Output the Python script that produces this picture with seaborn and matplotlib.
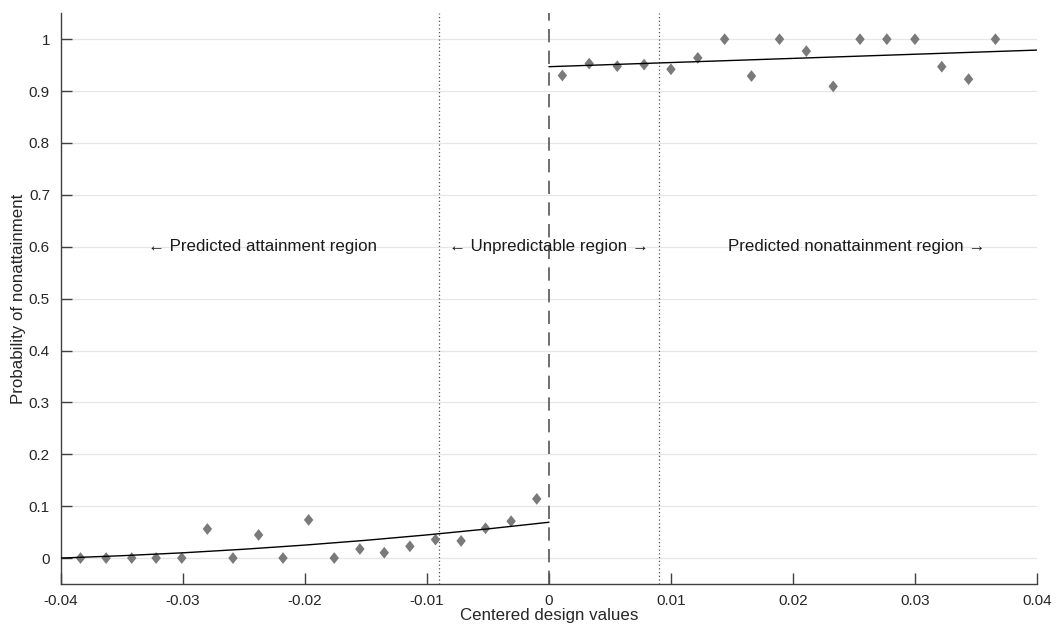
import numpy as np
import pandas as pd
import matplotlib
matplotlib.use("Agg")
import matplotlib.pyplot as plt
import seaborn as sns

# ---- data ----
left_x = [-0.0384, -0.0363, -0.0342, -0.0322, -0.0301, -0.0280, -0.0259, -0.0238,
          -0.0218, -0.0197, -0.0176, -0.0155, -0.0135, -0.0114, -0.0093, -0.0072,
          -0.0052, -0.0031, -0.0010]
left_y = [0.0, 0.0, 0.0, 0.0, 0.0, 0.056, 0.0, 0.0445, 0.0, 0.0735, 0.0, 0.0174,
          0.0103, 0.0226, 0.0355, 0.033, 0.0574, 0.071, 0.114]
right_x = [0.0011, 0.0033, 0.0056, 0.0078, 0.0100, 0.0122, 0.0144, 0.0166, 0.0189,
           0.0211, 0.0233, 0.0255, 0.0277, 0.0300, 0.0322, 0.0344, 0.0366]
right_y = [0.930, 0.953, 0.948, 0.951, 0.942, 0.964, 1.0, 0.929, 1.0, 0.977, 0.909,
           1.0, 1.0, 1.0, 0.947, 0.923, 1.0]

left_fit_x = [-0.04, -0.035, -0.03, -0.025, -0.02, -0.015, -0.01, -0.005, 0.0]
left_fit_y = [0.0, 0.0045, 0.0101, 0.0170, 0.025, 0.0342, 0.0446, 0.0562, 0.069]
right_fit_x = [0.0, 0.01, 0.02, 0.03, 0.04]
right_fit_y = [0.947, 0.955, 0.963, 0.971, 0.979]

x_ticks = [-0.04, -0.03, -0.02, -0.01, 0.0, 0.01, 0.02, 0.03, 0.04]
x_tick_labels = ["-0.04", "-0.03", "-0.02", "-0.01", "0", "0.01", "0.02", "0.03", "0.04"]
y_ticks = [0.0, 0.1, 0.2, 0.3, 0.4, 0.5, 0.6, 0.7, 0.8, 0.9, 1.0]
y_tick_labels = ["0", "0.1", "0.2", "0.3", "0.4", "0.5", "0.6", "0.7", "0.8", "0.9", "1"]
region_labels = ["\u2190 Predicted attainment region", "\u2190 Unpredictable region \u2192",
                 "Predicted nonattainment region \u2192"]
region_label_x = [-0.0235, 0.0, 0.0252]
cutoffs = [-0.009, 0.009]

sns.set_theme(style="white")
plt.rcParams['font.family'] = ['Liberation Sans', 'DejaVu Sans']

fig = plt.figure(figsize=(10.57, 6.31), dpi=100)
ax = fig.add_axes([0.0577, 0.0745, 0.9233, 0.9045])

diamond = [(0, 1), (0.8, 0), (0, -1), (-0.8, 0), (0, 1)]
pts = pd.DataFrame({"x": left_x + right_x, "y": left_y + right_y})
sns.scatterplot(data=pts, x="x", y="y", marker=diamond, s=72, color="#7a7a7a",
                edgecolor="none", linewidth=0, ax=ax, zorder=3)
sns.lineplot(x=left_fit_x, y=left_fit_y, color="black", linewidth=1.0, ax=ax, zorder=4)
sns.lineplot(x=right_fit_x, y=right_fit_y, color="black", linewidth=1.0, ax=ax, zorder=4)

ax.set_xlim(-0.04, 0.04)
ax.set_ylim(-0.05, 1.05)
ax.set_yticks(y_ticks)
ax.set_yticklabels(y_tick_labels)
ax.set_xticks(x_ticks)
ax.set_xticklabels(x_tick_labels)
for yv in y_ticks:
    ax.axhline(yv, color="#e6e6e6", linewidth=0.9, zorder=0)

ax.axvline(0.0, color="#555555", linewidth=1.2, linestyle=(0, (8, 5)), zorder=2)
for c in cutoffs:
    ax.axvline(c, color="#555555", linewidth=0.9, linestyle=(0, (1, 2)), zorder=2)

for lbl, xv in zip(region_labels, region_label_x):
    ax.text(xv, 0.6, lbl, ha="center", va="center", fontsize=12.2, color="#1a1a1a",
            zorder=5, family=['Liberation Sans', 'DejaVu Sans'])

for s in ["top", "right"]:
    ax.spines[s].set_visible(False)
for s in ["left", "bottom"]:
    ax.spines[s].set_color("#404040")
    ax.spines[s].set_linewidth(1.0)
ax.tick_params(axis="both", direction="in", length=8, width=1.0, color="#404040",
               labelsize=11, labelcolor="#262626", left=True, bottom=True)
ax.tick_params(axis="y", pad=8)
ax.tick_params(axis="x", pad=7)
ax.set_xlabel("Centered design values", fontsize=12.2, color="#262626", labelpad=0)
ax.set_ylabel("Probability of nonattainment", fontsize=12.2, color="#262626", labelpad=2)

fig.savefig("out.png", dpi=100)
